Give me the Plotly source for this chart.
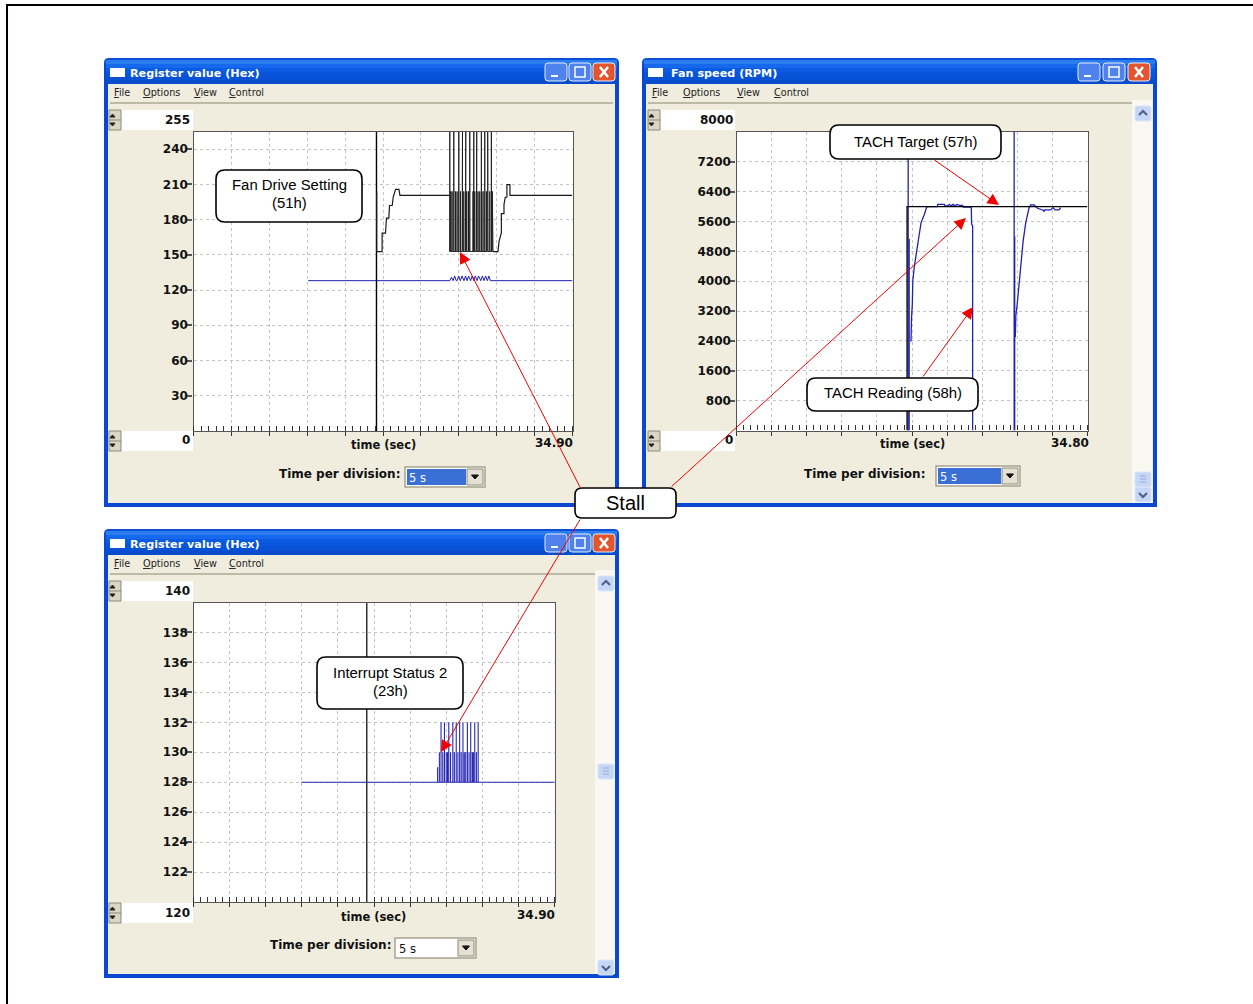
import plotly.graph_objects as go

W, H = 1253, 1004

# ---------- data: Register value (Hex), Fan Drive Setting (51h) ----------
fan_ramp1_t = [16.87, 16.87, 17.37, 17.37, 17.46, 17.68, 17.77, 17.99, 18.05, 18.30, 18.39, 18.61, 18.92, 19.01, 23.57]
fan_ramp1_v = [204, 152.8, 152.8, 168.4, 168.4, 168.4, 181.3, 181.3, 192, 192, 199.2, 205.8, 205.8, 200.6, 200.6]
fan_stall_t = [23.60, 23.69, 23.81, 23.97, 24.12, 24.27, 24.43, 24.58, 24.73, 24.77, 24.89, 25.04, 25.07, 25.16, 25.32, 25.44,
               25.74, 25.81, 25.90, 26.05, 26.08, 26.20, 26.36, 26.51, 26.66, 26.82, 26.97, 27.09, 27.12, 27.28, 27.43, 27.52]
fan_stall_v = [255, 204, 204, 255, 204, 204, 255, 204, 204, 255, 204, 204, 255, 204, 204, 255,
               204, 255, 204, 204, 255, 204, 204, 255, 204, 255, 204, 255, 204, 204, 255, 204]
fan_low = 152.8
fan_stall_end = 27.58
fan_ramp2_t = [27.58, 28.04, 28.13, 28.35, 28.35, 28.59, 28.59, 28.71, 28.86, 28.86, 29.14, 29.14, 34.87]
fan_ramp2_v = [152.8, 152.8, 161, 168.9, 185, 185, 192.7, 199, 199, 209.7, 209.7, 200.6, 200.6]
cursor1_t = [16.85, 16.85]
cursor1_v = [0, 255]
status_base_t = [10.56, 34.9]
status_base_v = [128, 128]
status_peak_t = [23.75, 24.05, 24.42, 24.72, 25.05, 25.33, 25.66, 25.95, 26.25, 26.6, 26.9, 27.2]
status_peak_v = [131, 132, 132, 132, 132, 132, 132, 132, 132, 132, 132, 132]

# ---------- data: Fan speed (RPM) ----------
tach_t = [17.02, 17.02, None, 17.12, 17.12, None, 17.23, 17.30, 17.35, 17.43, 17.48, 17.64, 18.07, 18.30, 18.63, 18.86,
          19.16, 19.91, 19.95, 20.60, 20.67, 20.97, 21.11, 21.27, 21.47, 21.67, 21.87, 22.17, 22.42, 22.47, 23.28, 23.31,
          23.41, 23.41, None, 27.53, 27.53, None, 27.58, 27.58, None, 27.64, 27.70, 27.80, 27.96, 28.19, 28.42, 28.68,
          29.01, 29.17, 29.50, 29.84, 30.40, 30.49, 30.56, 31.15, 31.38, 31.59, 31.98, 32.14]
tach_v = [8000, 0, None, 5130, 0, None, 2400, 2400, 3000, 3380, 4012, 4414, 5172, 5573, 5796, 5992,
          6000, 6000, 6060, 6060, 6020, 6020, 6060, 6020, 6060, 6020, 6060, 6030, 6030, 5990, 5990, 5530,
          5480, 0, None, 8000, 0, None, 5200, 0, None, 2500, 3100, 3300, 3745, 4548, 5082, 5573,
          5974, 6045, 6045, 5956, 5903, 5867, 5912, 5912, 5974, 5912, 5912, 5974]
target_t = [16.91, 16.91, 34.8]
target_v = [0, 6000, 6000]

# ---------- data: Register value (Hex), Interrupt Status 2 (23h) ----------
cursor3_t = [16.75, 16.75]
cursor3_v = [120, 140]
irq_base_t = [10.43, 34.9]
irq_base_v = [128, 128]
irq_spike_t = [23.60, 23.77, 23.93, 24.10, 24.26, 24.43, 24.56, 24.68, 24.85, 25.07, 25.22, 25.40, 25.56, 25.73, 25.88,
               26.05, 26.18, 26.32, 26.48, 26.64, 26.80, 26.95, 27.06, 27.19, 27.35, 27.52]
irq_spike_v = [129, 130, 132, 130, 132, 130, 130, 132, 130, 132, 130, 132, 130, 132, 130,
               132, 130, 130, 132, 130, 132, 130, 130, 132, 130, 132]

# ---------- axis labels ----------
y1_ticks = [30, 60, 90, 120, 150, 180, 210, 240]
y2_ticks = [800, 1600, 2400, 3200, 4000, 4800, 5600, 6400, 7200]
y3_ticks = [122, 124, 126, 128, 130, 132, 134, 136, 138]
x_division = 3.49
x2_division = 3.48


def px(x):
    return x / W


def py(y):
    return 1 - y / H


def rect(x0, y0, x1, y1, fill, line=None, lw=0, layer="below"):
    return dict(type="rect", xref="paper", yref="paper", x0=px(x0), x1=px(x1), y0=py(y0), y1=py(y1),
                fillcolor=fill, line=dict(color=line or fill, width=lw), layer=layer)


def path(points, fill=None, line="#000", lw=1, close=False, layer="below"):
    d = "M " + " L ".join(f"{px(a):.5f},{py(b):.5f}" for a, b in points) + (" Z" if close else "")
    return dict(type="path", xref="paper", yref="paper", path=d, fillcolor=fill or "rgba(0,0,0,0)",
                line=dict(color=line, width=lw), layer=layer)


def rounded(x0, y0, x1, y1, r, fill, line, lw, layer="below"):
    X = lambda v: f"{px(v):.5f}"
    Y = lambda v: f"{py(v):.5f}"
    d = (f"M {X(x0+r)},{Y(y0)} L {X(x1-r)},{Y(y0)} Q {X(x1)},{Y(y0)} {X(x1)},{Y(y0+r)} "
         f"L {X(x1)},{Y(y1-r)} Q {X(x1)},{Y(y1)} {X(x1-r)},{Y(y1)} "
         f"L {X(x0+r)},{Y(y1)} Q {X(x0)},{Y(y1)} {X(x0)},{Y(y1-r)} "
         f"L {X(x0)},{Y(y0+r)} Q {X(x0)},{Y(y0)} {X(x0+r)},{Y(y0)} Z")
    return dict(type="path", xref="paper", yref="paper", path=d, fillcolor=fill,
                line=dict(color=line, width=lw), layer=layer)


shapes, notes = [], []
UI = "DejaVu Sans"
ARIAL = "Liberation Sans"
BEIGE = "#F0EDDF"
BAND = ["#2C7CF2", "#1669EC", "#0B5AE2", "#0855DC", "#0851D4", "#084CCB"]


def text(x, y, s, size=12, color="#111", family=UI, anchor="left"):
    notes.append(dict(x=px(x), y=py(y), xref="paper", yref="paper", text=s, showarrow=False,
                      xanchor=anchor, yanchor="middle", align="center" if anchor == "center" else anchor,
                      font=dict(size=size, color=color, family=family), borderpad=0, borderwidth=0))


def underlined(word):
    return f'<span style="text-decoration:underline">{word[0]}</span>{word[1:]}'


def spin(x0, x1, y0, label, rx):
    shapes.append(rect(x0 + 12, y0, x1, y0 + 20, "#FFFFFF"))
    shapes.append(rect(x0, y0, x0 + 12, y0 + 20, "#DAD6C4", "#8C8A7A", 1))
    shapes.append(path([(x0, y0 + 10), (x0 + 12, y0 + 10)], line="#8C8A7A"))
    shapes.append(path([(x0 + 1, y0 + 7), (x0 + 6, y0 + 7), (x0 + 3.5, y0 + 4)], fill="#222", line="#222", close=True))
    shapes.append(path([(x0 + 1, y0 + 13), (x0 + 6, y0 + 13), (x0 + 3.5, y0 + 16)], fill="#222", line="#222", close=True))
    text(rx, y0 + 9.5, f"<b>{label}</b>", 12, anchor="right")


def window(x0, y0, x1, y1, title, title_x, menu_xs, btns):
    shapes.append(rounded(x0, y0, x1, y0 + 20, 5, "#0A4FD6", "#0A4FD6", 0))
    shapes.append(rect(x0, y0 + 6, x1, y1, "#0A48D2"))
    for i, c in enumerate(BAND):
        shapes.append(rect(x0 + 2, y0 + 2 + i * 4, x1 - 2, y0 + 6 + i * 4, c))
    shapes.append(rect(x0 + 4, y0 + 26, x1 - 4, y1 - 4, BEIGE))
    shapes.append(rect(x0 + 6, y0 + 10, x0 + 21, y0 + 19, "#FFFFFF"))
    text(title_x, y0 + 15, f"<b>{title}</b>", 11.2, "#FFFFFF")
    for word, mx in zip(["File", "Options", "View", "Control"], menu_xs):
        text(mx, y0 + 34.5, underlined(word), 9.7, "#222")
    shapes.append(path([(x0 + 6, y0 + 45), (x1 - 6, y0 + 45)], line="#ADA993", lw=1.5))
    top, h = y0 + 5, 18
    for i, bx in enumerate(btns):
        fill = "#E2552E" if i == 2 else "#4F82EC"
        shapes.append(rounded(bx, top, bx + 22, top + h, 3, fill, "#E8EEFC", 1))
    a, b, c = btns
    shapes.append(rect(a + 6, top + 12, a + 13, top + 14, "#FFFFFF"))
    shapes.append(rect(b + 6, top + 4, b + 16, top + 14, "rgba(0,0,0,0)", "#FFFFFF", 1.5))
    shapes.append(path([(c + 7, top + 4), (c + 15, top + 14)], line="#FFFFFF", lw=2.5))
    shapes.append(path([(c + 15, top + 4), (c + 7, top + 14)], line="#FFFFFF", lw=2.5))


def combo(x0, y0, x1, selected):
    shapes.append(rect(x0, y0, x1, y0 + 20, "#FFFFFF", "#A5A28E", 1.5))
    shapes.append(rect(x1 - 18, y0 + 2, x1 - 2, y0 + 18, "#E4E1D2", "#8C8A7A", 1))
    c = x1 - 10
    shapes.append(path([(c - 3.5, y0 + 8), (c + 3.5, y0 + 8), (c, y0 + 12)], fill="#111", line="#111", close=True))
    if selected:
        shapes.append(rect(x0 + 2, y0 + 2, x1 - 19, y0 + 18, "#3A70D6"))
    text(x0 + 4, y0 + 11, "5 s", 11.5, "#FFFFFF" if selected else "#111")


def scrollbar(x0, x1, top, thumb, bottom, y_end):
    shapes.append(rect(x0 - 3, top - 6, x1 + 1, y_end, "#F9F8F2"))
    for yy, up in [(top, True), (bottom, False)]:
        shapes.append(rounded(x0, yy, x1, yy + 15, 2, "#C6D6F6", "#DCE6FA", 1))
        mid = (x0 + x1) / 2
        tip, base = (yy + 5, yy + 9) if up else (yy + 10, yy + 6)
        shapes.append(path([(mid - 4, base), (mid, tip), (mid + 4, base)], line="#4B5F88", lw=2))
    shapes.append(rounded(x0, thumb, x1, thumb + 15, 2, "#C6D6F6", "#DCE6FA", 1))
    for k in (4, 7, 10):
        shapes.append(path([(x0 + 5, thumb + k), (x1 - 5, thumb + k)], line="#93A9D8"))


# page frame
shapes.append(path([(7, H), (7, 5), (W, 5)], line="#000", lw=2))

# windows
window(104, 58, 619, 507, "Register value (Hex)", 130, [114, 143, 194, 229], [545, 569, 593])
window(642, 58, 1157, 507, "Fan speed (RPM)", 671, [652, 683, 737, 774], [1078, 1103, 1128])
window(104, 529, 619, 978, "Register value (Hex)", 130, [114, 143, 194, 229], [545, 569, 593])
scrollbar(1135, 1151, 106, 472, 487, 503)
scrollbar(598, 614, 576, 764, 960, 974)

# white plot areas
shapes.append(rect(193, 131, 573, 431, "#FFFFFF"))
shapes.append(rect(736, 132, 1088, 431, "#FFFFFF"))
shapes.append(rect(193, 602, 555, 902, "#FFFFFF"))

spin(109, 193, 110, "255", 190)
spin(109, 193, 431, "0", 190)
spin(648, 735, 110, "8000", 733)
spin(648, 735, 431, "0", 733)
spin(109, 193, 581, "140", 190)
spin(109, 193, 903, "120", 190)

for tx, ty in [(383, 445), (912, 444), (373, 917)]:
    text(tx, ty, "<b>time (sec)</b>", 11.5, anchor="center")
for tx, ty, s in [(573, 443, "34.90"), (1089, 443, "34.80"), (555, 915, "34.90")]:
    text(tx, ty, f"<b>{s}</b>", 12, anchor="right")
for tx, ty in [(400, 474), (925, 474), (391, 945)]:
    text(tx, ty, "<b>Time per division:</b>", 12, anchor="right")
combo(405, 467, 485, True)
combo(936, 466, 1020, True)
combo(395, 938, 476, False)

# callouts
for (a, b, c, d, lines, ys) in [
    (216, 170, 362, 222, ["Fan Drive Setting", "(51h)"], [185, 203]),
    (830, 125, 1001, 159, ["TACH Target (57h)"], [141.5]),
    (807, 378, 978, 411, ["TACH Reading (58h)"], [393]),
    (317, 657, 463, 709, ["Interrupt Status 2", "(23h)"], [673, 691]),
]:
    shapes.append(rounded(a, b, c, d, 9, "#FFFFFF", "#000", 1.6, layer="above"))
    for s, yy in zip(lines, ys):
        text((a + c) / 2, yy, s, 14.9, "#000", ARIAL, "center")
shapes.append(rounded(575, 488, 676, 518, 7, "#FFFFFF", "#000", 1.6, layer="above"))
text(625.5, 503, "Stall", 20, "#000", ARIAL, "center")

# red arrows
for tail, head in [((581, 489), (460, 252)), ((670, 488), (966, 218)), ((581, 518), (441, 752)),
                   ((933, 159), (999, 205)), ((922, 378), (973, 307))]:
    notes.append(dict(x=px(head[0]), y=py(head[1]), xref="paper", yref="paper", text="", showarrow=True,
                      ax=tail[0] - head[0], ay=tail[1] - head[1], axref="pixel", ayref="pixel",
                      arrowcolor="#F00000", arrowwidth=1, arrowhead=2, arrowsize=2.3, standoff=0))


# ---------- series built from the arrays above ----------
def burst(times, peaks, low):
    xs, ys = [], []
    for t, v in zip(times, peaks):
        xs += [t, t, t]
        ys += [low, v, low]
    return xs, ys


def triangles(times, peaks, low):
    xs, ys = [], []
    for t, v in zip(times, peaks):
        xs += [t - 0.14, t, t + 0.14]
        ys += [low, v, low]
    return xs, ys


BLACK = "#1A1A1A"
BLUE = "#2020B0"
sx, sy = burst(fan_stall_t, fan_stall_v, fan_low)
fan_x = fan_ramp1_t + [None] + fan_ramp2_t
fan_y = fan_ramp1_v + [None] + fan_ramp2_v
px_t, px_v = triangles(status_peak_t, status_peak_v, 128)
status_x = status_base_t[:1] + px_t + status_base_t[1:]
status_y = status_base_v[:1] + px_v + status_base_v[1:]
ix, iy = burst(irq_spike_t, irq_spike_v, 128)
irq_x = irq_base_t[:1] + ix + irq_base_t[1:]
irq_y = irq_base_v[:1] + iy + irq_base_v[1:]

fig = go.Figure()


def line(x, y, axis, color, width=1.1, name=""):
    fig.add_trace(go.Scatter(x=x, y=y, mode="lines", xaxis=f"x{axis}", yaxis=f"y{axis}", name=name,
                             line=dict(color=color, width=width, shape="linear"), showlegend=False,
                             hoverinfo="skip"))


line(status_x, status_y, "", BLUE, 1, "Status")
line(cursor1_t, cursor1_v, "", "#000", 1.4, "Cursor")
line(fan_x, fan_y, "", BLACK, 1.2, "Fan Drive Setting (51h)")
line(sx + [fan_stall_end], sy + [fan_low], "", BLACK, 0.9, "Fan Drive Setting (51h) stall")
line(tach_t, tach_v, "2", BLUE, 1.3, "TACH Reading (58h)")
line(target_t, target_v, "2", "#000", 1.3, "TACH Target (57h)")
line(cursor3_t, cursor3_v, "3", "#222", 1.4, "Cursor")
line(irq_x, irq_y, "3", "#2626B4", 1.1, "Interrupt Status 2 (23h)")


def xaxis(x0, x1, rng, div, anchor):
    return dict(domain=[px(x0), px(x1)], range=rng, anchor=anchor, showgrid=True, griddash="dot",
                gridcolor="#C4C4C4", gridwidth=1, dtick=div, tick0=0, ticks="outside", ticklen=4, tickwidth=1,
                tickcolor="#333", showticklabels=False, showline=True, linecolor="#555", linewidth=1.4,
                mirror=True, zeroline=False,
                minor=dict(dtick=div / 5, tick0=0, ticks="inside", ticklen=5, tickwidth=1, tickcolor="#333",
                           showgrid=False))


def yaxis(y_top, y_bottom, rng, ticks, anchor):
    return dict(domain=[py(y_bottom), py(y_top)], range=rng, anchor=anchor, tickmode="array", tickvals=ticks,
                ticktext=[f"<b>{t}</b>" for t in ticks], tickfont=dict(size=12, family=UI, color="#111"),
                showgrid=True, griddash="dot", gridcolor="#C4C4C4", gridwidth=1, ticks="outside", ticklen=6,
                tickwidth=1.5, tickcolor="#555", showline=True, linecolor="#555", linewidth=1.4, mirror=True,
                zeroline=False, ticklabelstandoff=-4)


fig.update_layout(
    width=W, height=H, autosize=False, margin=dict(l=0, r=0, t=0, b=0, pad=0),
    paper_bgcolor="#FFFFFF", plot_bgcolor="rgba(0,0,0,0)", showlegend=False,
    xaxis=xaxis(193.5, 572.5, [0, 34.9], x_division, "y"),
    yaxis=yaxis(131.5, 431, [0, 255], y1_ticks, "x"),
    xaxis2=xaxis(736.5, 1087.5, [0, 34.8], x2_division, "y2"),
    yaxis2=yaxis(132, 430.5, [0, 8000], y2_ticks, "x2"),
    xaxis3=xaxis(193.5, 554.5, [0, 34.9], x_division, "y3"),
    yaxis3=yaxis(602.5, 902, [120, 140], y3_ticks, "x3"),
    shapes=shapes, annotations=notes,
)

fig.write_html("out.html", config=dict(displayModeBar=False),
               post_script="document.body.style.margin='0';document.body.style.overflow='hidden';")
